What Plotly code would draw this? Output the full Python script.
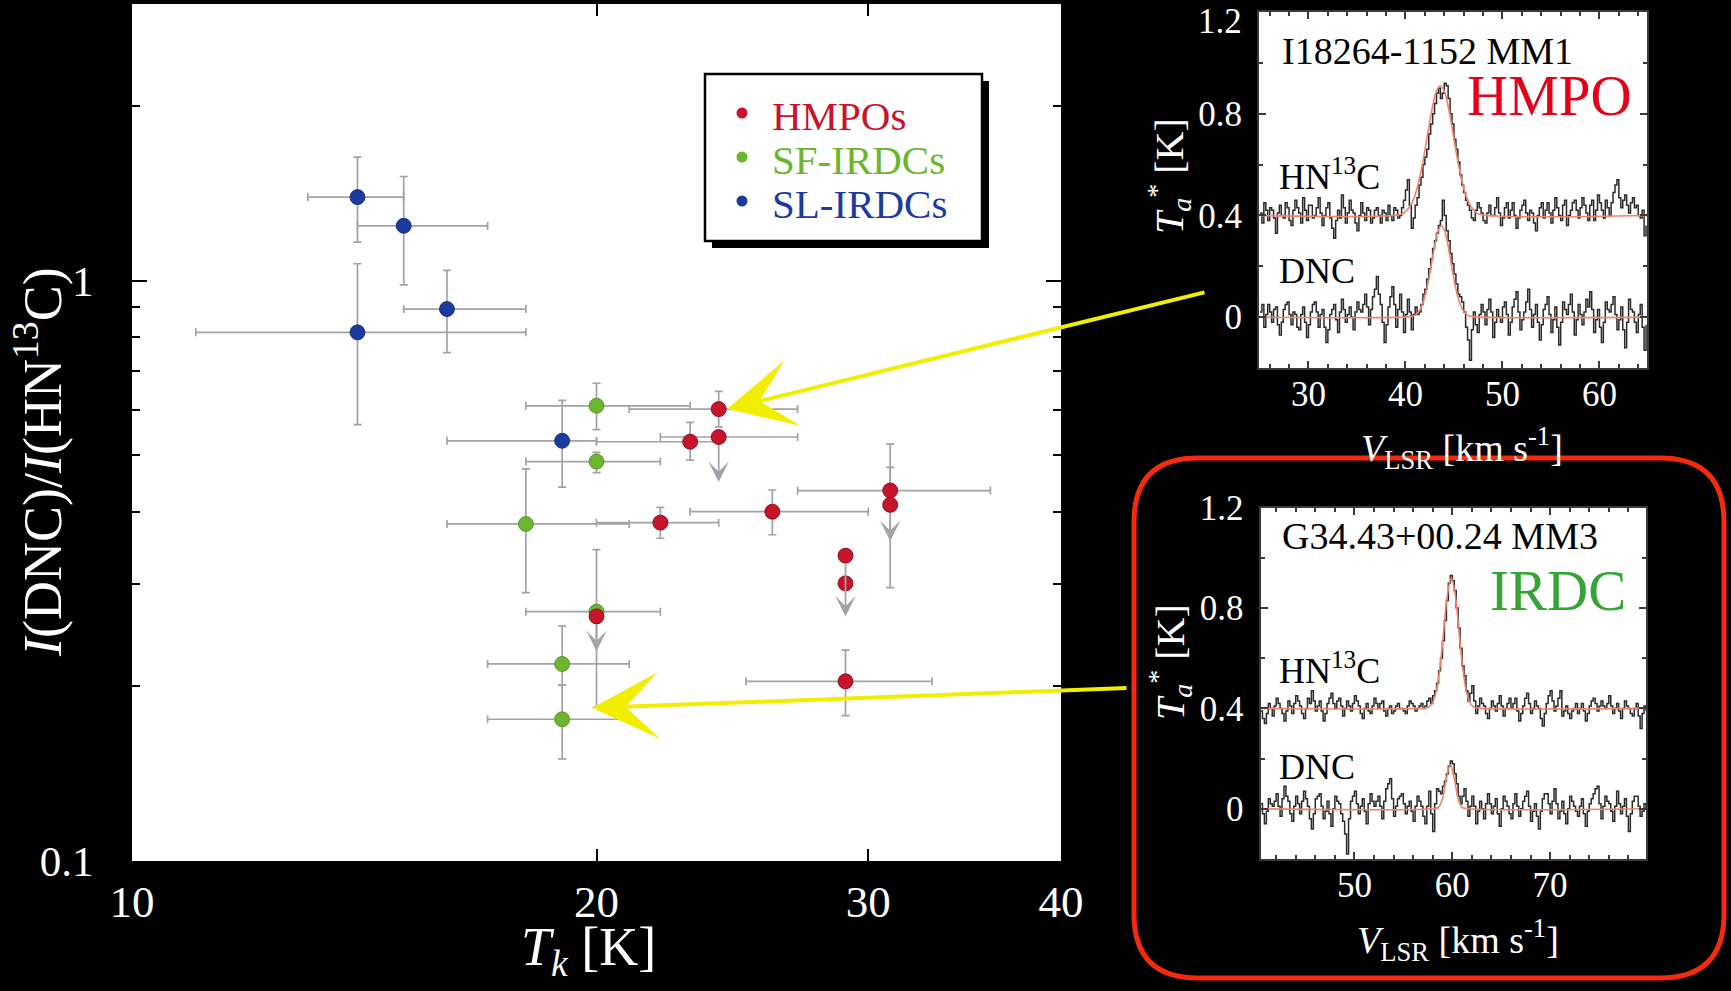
import numpy as np
import plotly.graph_objects as go

W, H = 1731, 991
SERIF = "Liberation Serif"

# ---------------- main panel: I(DNC)/I(HN13C) versus T_k ----------------
# HMPOs
hmpo_tk = [24, 24, 23, 22, 26, 31, 31, 29, 29, 29, 20]
hmpo_ratio = [0.601, 0.538, 0.528, 0.383, 0.400, 0.435, 0.411, 0.336, 0.301, 0.204, 0.264]
hmpo_tk_lo = [21, 22, 20, 20, 23, 27, 31, 29, 29, 25, 20]
hmpo_tk_hi = [27, 27, 24, 24, 30, 36, 31, 29, 29, 33, 20]
hmpo_ratio_lo = [0.560, 0.538, 0.491, 0.360, 0.365, 0.296, 0.411, 0.336, 0.301, 0.178, 0.264]
hmpo_ratio_hi = [0.645, 0.538, 0.570, 0.407, 0.436, 0.523, 0.477, 0.336, 0.301, 0.231, 0.264]
hmpo_limit_to = [None, 0.450, None, None, None, None, 0.356, 0.264, None, None, 0.230]

# star-forming IRDCs
sf_tk = [20, 20, 18, 20, 19, 19]
sf_ratio = [0.609, 0.488, 0.381, 0.269, 0.2186, 0.1755]
sf_tk_lo = [18, 18, 16, 18, 17, 17]
sf_tk_hi = [23, 22, 21, 22, 21, 21]
sf_ratio_lo = [0.554, 0.467, 0.290, 0.184, 0.201, 0.150]
sf_ratio_hi = [0.666, 0.506, 0.474, 0.344, 0.254, 0.201]

# starless IRDCs
sl_tk = [14, 15, 16, 14, 19]
sl_ratio = [1.394, 1.244, 0.894, 0.815, 0.530]
sl_tk_lo = [13, 14, 15, 11, 16]
sl_tk_hi = [15, 17, 18, 18, 20]
sl_ratio_lo = [1.166, 0.984, 0.752, 0.565, 0.441]
sl_ratio_hi = [1.634, 1.513, 1.042, 1.070, 0.622]

x_ticks = [10, 20, 30, 40]
y_ticks = [0.1, 1]
y_minor = [0.2, 0.3, 0.4, 0.5, 0.6, 0.7, 0.8, 0.9, 2]

# ---------------- spectra (channel width 0.2 km/s) ----------------
top_v0, top_dv = 25.0, 0.2
top_hn13c = [
    0.41, 0.37, 0.45, 0.42, 0.38, 0.43, 0.42, 0.39, 0.33, 0.41,
    0.44, 0.40, 0.39, 0.45, 0.43, 0.38, 0.36, 0.42, 0.46, 0.43,
    0.41, 0.37, 0.47, 0.42, 0.38, 0.44, 0.44, 0.39, 0.40, 0.43,
    0.47, 0.41, 0.36, 0.40, 0.43, 0.45, 0.39, 0.35, 0.31, 0.38,
    0.42, 0.39, 0.48, 0.43, 0.37, 0.41, 0.46, 0.42, 0.41, 0.37,
    0.34, 0.40, 0.45, 0.41, 0.38, 0.43, 0.42, 0.37, 0.39, 0.42,
    0.43, 0.40, 0.37, 0.42, 0.41, 0.38, 0.44, 0.40, 0.38, 0.43,
    0.42, 0.39, 0.40, 0.43, 0.46, 0.50, 0.54, 0.44, 0.35, 0.39,
    0.44, 0.47, 0.52, 0.55, 0.60, 0.63, 0.66, 0.72, 0.76, 0.80,
    0.84, 0.88, 0.90, 0.86, 0.88, 0.92, 0.91, 0.86, 0.80, 0.76,
    0.70, 0.66, 0.61, 0.56, 0.52, 0.49, 0.46, 0.44, 0.42, 0.39,
    0.38, 0.42, 0.45, 0.43, 0.41, 0.38, 0.37, 0.41, 0.44, 0.40,
    0.40, 0.43, 0.47, 0.41, 0.36, 0.39, 0.43, 0.45, 0.39, 0.42,
    0.45, 0.40, 0.35, 0.39, 0.42, 0.44, 0.46, 0.41, 0.38, 0.42,
    0.41, 0.37, 0.34, 0.40, 0.43, 0.45, 0.39, 0.42, 0.45, 0.41,
    0.37, 0.42, 0.47, 0.43, 0.40, 0.38, 0.44, 0.46, 0.36, 0.40,
    0.42, 0.45, 0.46, 0.42, 0.39, 0.43, 0.47, 0.44, 0.41, 0.38,
    0.44, 0.46, 0.38, 0.42, 0.48, 0.45, 0.42, 0.39, 0.46, 0.43,
    0.40, 0.45, 0.49, 0.52, 0.54, 0.47, 0.43, 0.46, 0.48, 0.44,
    0.41, 0.45, 0.47, 0.43, 0.44, 0.40, 0.39, 0.42, 0.32, 0.36]
top_dnc = [
    0.02, 0.05, -0.04, 0.01, 0.05, 0.02, -0.02, 0.03, 0.04, -0.03,
    -0.07, -0.02, 0.03, 0.05, 0.06, 0.01, -0.03, 0.02, 0.01, -0.04,
    -0.05, 0.01, 0.04, -0.02, -0.08, -0.03, 0.02, 0.05, 0.06, 0.02,
    -0.04, 0.01, 0.03, -0.04, -0.10, -0.05, 0.01, 0.03, 0.05, -0.01,
    -0.06, 0.02, 0.07, 0.03, -0.02, 0.01, 0.04, 0.00, -0.05, 0.02,
    0.06, 0.03, 0.02, 0.05, 0.09, 0.04, -0.03, 0.03, 0.08, 0.11,
    0.16, 0.09, 0.05, -0.02, -0.10, -0.03, 0.04, 0.08, 0.12, 0.05,
    -0.04, 0.03, 0.09, 0.02, -0.06, 0.01, 0.07, 0.02, -0.05, 0.01,
    0.04, 0.01, 0.02, 0.05, 0.09, 0.11, 0.15, 0.19, 0.23, 0.27,
    0.30, 0.33, 0.36, 0.38, 0.46, 0.40, 0.34, 0.30, 0.25, 0.21,
    0.17, 0.13, 0.09, 0.08, 0.06, 0.02, -0.04, -0.09, -0.17, -0.05,
    0.02, -0.03, -0.06, 0.01, 0.05, 0.02, -0.03, 0.03, 0.07, 0.02,
    -0.08, -0.02, 0.03, 0.00, -0.02, 0.04, 0.06, 0.01, -0.07, -0.02,
    0.04, 0.07, 0.10, 0.02, -0.05, -0.01, 0.02, 0.06, 0.11, 0.03,
    -0.04, 0.01, 0.05, -0.02, -0.09, -0.03, 0.03, 0.05, 0.08, 0.01,
    -0.06, -0.01, 0.04, -0.04, -0.11, -0.02, 0.06, 0.03, 0.01, 0.05,
    0.09, 0.02, -0.07, -0.01, 0.05, 0.01, -0.03, 0.02, 0.07, 0.04,
    0.10, 0.03, -0.06, -0.01, 0.03, -0.04, -0.10, -0.02, 0.06, 0.03,
    0.02, 0.05, 0.08, 0.01, -0.05, -0.01, 0.04, -0.05, -0.12, -0.02,
    0.07, 0.03, 0.02, -0.02, -0.06, 0.01, 0.05, -0.04, -0.13, -0.03]
top_hn13c_fit_v = [24.9, 39.6, 40.0, 40.4, 40.8, 41.2, 41.6, 42.0, 42.4, 42.8, 43.2, 43.6,
                   44.0, 44.4, 44.8, 45.2, 45.6, 46.0, 46.4, 46.8, 47.2, 47.6, 64.9]
top_hn13c_fit_t = [0.40, 0.405, 0.415, 0.432, 0.461, 0.507, 0.573, 0.655, 0.746, 0.829, 0.889, 0.91,
                   0.889, 0.829, 0.746, 0.655, 0.573, 0.507, 0.461, 0.432, 0.415, 0.405, 0.40]
top_dnc_fit_v = [24.9, 40.5, 40.9, 41.3, 41.7, 42.1, 42.5, 42.9, 43.3, 43.7,
                 44.1, 44.5, 44.9, 45.3, 45.7, 46.1, 46.5, 46.9, 64.9]
top_dnc_fit_t = [0.0, 0.002, 0.006, 0.018, 0.045, 0.095, 0.170, 0.258, 0.331, 0.36,
                 0.331, 0.258, 0.170, 0.095, 0.045, 0.018, 0.006, 0.002, 0.0]

bot_v0, bot_dv = 40.4, 0.2
bot_hn13c = [
    0.39, 0.36, 0.34, 0.38, 0.42, 0.40, 0.37, 0.41, 0.44, 0.42,
    0.40, 0.38, 0.35, 0.39, 0.43, 0.41, 0.38, 0.42, 0.45, 0.43,
    0.41, 0.38, 0.36, 0.40, 0.44, 0.42, 0.47, 0.43, 0.39, 0.41,
    0.43, 0.39, 0.35, 0.38, 0.42, 0.44, 0.46, 0.42, 0.40, 0.43,
    0.44, 0.41, 0.37, 0.40, 0.43, 0.41, 0.39, 0.42, 0.45, 0.43,
    0.41, 0.38, 0.36, 0.40, 0.42, 0.39, 0.38, 0.41, 0.44, 0.42,
    0.40, 0.42, 0.43, 0.39, 0.37, 0.40, 0.41, 0.38, 0.39, 0.41,
    0.42, 0.40, 0.40, 0.39, 0.38, 0.41, 0.43, 0.42, 0.41, 0.39,
    0.40, 0.41, 0.42, 0.40, 0.41, 0.43, 0.44, 0.42, 0.45, 0.47,
    0.50, 0.55, 0.60, 0.67, 0.75, 0.83, 0.90, 0.93, 0.91, 0.87,
    0.80, 0.72, 0.64, 0.57, 0.53, 0.47, 0.43, 0.46, 0.49, 0.43,
    0.38, 0.41, 0.44, 0.42, 0.41, 0.38, 0.36, 0.40, 0.43, 0.41,
    0.39, 0.42, 0.45, 0.41, 0.37, 0.40, 0.42, 0.44, 0.40, 0.42,
    0.44, 0.39, 0.35, 0.38, 0.41, 0.44, 0.46, 0.42, 0.38, 0.40,
    0.43, 0.41, 0.40, 0.36, 0.33, 0.38, 0.42, 0.45, 0.47, 0.43,
    0.39, 0.41, 0.44, 0.47, 0.37, 0.39, 0.41, 0.38, 0.36, 0.39,
    0.40, 0.42, 0.38, 0.40, 0.42, 0.39, 0.35, 0.38, 0.41, 0.43,
    0.44, 0.42, 0.39, 0.41, 0.43, 0.41, 0.40, 0.42, 0.45, 0.41,
    0.38, 0.40, 0.42, 0.39, 0.36, 0.40, 0.43, 0.41, 0.40, 0.38,
    0.37, 0.40, 0.42, 0.37, 0.32, 0.38, 0.41, 0.39]
bot_dnc = [
    0.02, -0.02, -0.06, -0.01, 0.04, 0.02, 0.01, 0.03, 0.06, 0.01,
    -0.03, 0.04, 0.09, 0.05, 0.03, -0.02, -0.05, 0.01, 0.05, 0.02,
    -0.02, 0.03, 0.07, 0.04, 0.01, -0.04, -0.08, -0.02, 0.04, 0.05,
    0.06, 0.01, -0.04, -0.01, 0.03, -0.02, -0.07, 0.00, 0.05, 0.03,
    0.02, -0.02, -0.05, -0.10, -0.18, -0.04, 0.03, 0.05, 0.07, 0.02,
    -0.02, 0.01, 0.04, -0.01, -0.06, 0.02, 0.06, 0.03, 0.01, 0.03,
    0.05, 0.01, -0.04, 0.03, 0.08, 0.10, 0.12, 0.04, -0.03, 0.01,
    0.04, 0.05, 0.06, 0.02, -0.02, 0.01, 0.03, -0.01, -0.05, 0.01,
    0.05, 0.03, 0.01, -0.03, -0.06, 0.01, 0.07, -0.02, -0.09, 0.02,
    0.08, 0.07, 0.06, 0.09, 0.11, 0.14, 0.17, 0.19, 0.18, 0.14,
    0.10, 0.05, 0.02, 0.05, 0.08, 0.03, -0.03, 0.01, 0.05, 0.01,
    -0.06, -0.01, 0.03, 0.00, -0.04, 0.02, 0.06, 0.02, -0.02, 0.01,
    0.04, -0.02, -0.07, 0.00, 0.05, 0.03, 0.01, -0.02, -0.04, 0.02,
    0.06, 0.01, -0.03, 0.00, 0.03, 0.05, 0.07, 0.01, -0.05, -0.01,
    0.02, -0.03, -0.08, -0.01, 0.04, 0.06, 0.06, 0.02, -0.02, 0.03,
    0.08, 0.02, -0.04, -0.01, 0.03, -0.02, -0.06, 0.00, 0.05, 0.03,
    0.01, -0.01, -0.03, 0.01, 0.04, -0.02, -0.07, -0.01, 0.02, 0.04,
    0.06, 0.08, 0.09, 0.02, -0.04, 0.01, 0.05, 0.03, 0.02, -0.01,
    -0.05, 0.01, 0.07, 0.02, -0.02, 0.01, 0.04, -0.03, -0.09, -0.02,
    0.03, 0.05, 0.05, 0.01, -0.03, -0.01, 0.02, 0.00]
bot_hn13c_fit_v = [40.4, 57.1, 57.5, 57.9, 58.3, 58.7, 59.1, 59.5, 59.9,
                   60.3, 60.7, 61.1, 61.5, 61.9, 62.3, 62.7, 79.8]
bot_hn13c_fit_t = [0.40, 0.401, 0.404, 0.417, 0.458, 0.551, 0.70, 0.853, 0.92,
                   0.853, 0.70, 0.551, 0.458, 0.417, 0.404, 0.401, 0.40]
bot_dnc_fit_v = [40.4, 58.2, 58.6, 59.0, 59.4, 59.8, 60.2, 60.6, 61.0, 61.4, 79.8]
bot_dnc_fit_t = [0.0, 0.001, 0.006, 0.04, 0.121, 0.175, 0.121, 0.04, 0.006, 0.001, 0.0]

spec_y_ticks = [0, 0.4, 0.8, 1.2]
spec_y_text = ["0", "0.4", "0.8", "1.2"]
top_x_ticks = [30, 40, 50, 60]
bot_x_ticks = [50, 60, 70]

# colours
C_HMPO = "#c8142a"
C_SF = "#6cb52e"
C_SL = "#1b3b9e"
C_ERR = "#a2a2a8"
C_FIT = "#f08468"
C_SPEC = "#2a2a2a"
C_YEL = "#f2ee00"


def px(X, Y):
    """pixel position on the page -> paper fraction"""
    return X / W, 1 - Y / H


def err_arrays(val, lo, hi):
    val, lo, hi = map(np.asarray, (val, lo, hi))
    return (hi - val).tolist(), (val - lo).tolist()


fig = go.Figure()


def add_group(tk, ratio, tk_lo, tk_hi, r_lo, r_hi, color, edge):
    xp, xm = err_arrays(tk, tk_lo, tk_hi)
    yp, ym = err_arrays(ratio, r_lo, r_hi)
    fig.add_trace(go.Scatter(
        x=tk, y=ratio, mode="markers", xaxis="x", yaxis="y",
        marker=dict(size=15, color=color, line=dict(color=edge, width=0.8)),
        error_x=dict(type="data", symmetric=False, array=xp, arrayminus=xm,
                     color=C_ERR, thickness=1.7, width=4),
        error_y=dict(type="data", symmetric=False, array=yp, arrayminus=ym,
                     color=C_ERR, thickness=1.7, width=4),
        hoverinfo="skip", showlegend=False))


add_group(sl_tk, sl_ratio, sl_tk_lo, sl_tk_hi, sl_ratio_lo, sl_ratio_hi, C_SL, "#0e2466")
add_group(sf_tk, sf_ratio, sf_tk_lo, sf_tk_hi, sf_ratio_lo, sf_ratio_hi, C_SF, "#4a8a1c")
add_group(hmpo_tk, hmpo_ratio, hmpo_tk_lo, hmpo_tk_hi, hmpo_ratio_lo, hmpo_ratio_hi, C_HMPO, "#7a0010")


def add_spec(vel, data, fit_v, fit_t, xa, ya):
    fig.add_trace(go.Scatter(x=vel, y=data, mode="lines", xaxis=xa, yaxis=ya,
                             line=dict(color=C_SPEC, width=1.5, shape="hv"),
                             hoverinfo="skip", showlegend=False))
    fig.add_trace(go.Scatter(x=fit_v, y=fit_t, mode="lines", xaxis=xa, yaxis=ya,
                             line=dict(color=C_FIT, width=1.6, shape="spline"),
                             hoverinfo="skip", showlegend=False))


top_vel = np.round(top_v0 + top_dv * np.arange(len(top_hn13c)), 2)
bot_vel = np.round(bot_v0 + bot_dv * np.arange(len(bot_hn13c)), 2)
add_spec(top_vel, top_hn13c, top_hn13c_fit_v, top_hn13c_fit_t, "x2", "y2")
add_spec(top_vel, top_dnc, top_dnc_fit_v, top_dnc_fit_t, "x2", "y2")
add_spec(bot_vel, bot_hn13c, bot_hn13c_fit_v, bot_hn13c_fit_t, "x3", "y3")
add_spec(bot_vel, bot_dnc, bot_dnc_fit_v, bot_dnc_fit_t, "x3", "y3")

# ---------------- axes ----------------
main_frame = dict(showline=True, linecolor="black", linewidth=2, mirror="ticks",
                  ticks="inside", tickcolor="black", tickwidth=2, showgrid=False,
                  zeroline=False, automargin=False)
fig.update_layout(
    xaxis=dict(domain=[132 / W, 1061 / W], anchor="y", type="log",
               range=[1, np.log10(40)], tickvals=x_ticks,
               ticktext=[str(v) for v in x_ticks], ticklen=12,
               tickfont=dict(family=SERIF, size=45, color="white"),
               ticklabelstandoff=0, **main_frame),
    yaxis=dict(domain=[1 - 861 / H, 1 - 4 / H], anchor="x", type="log",
               range=[-1, np.log10(3)], tickvals=y_ticks,
               ticktext=["0.1", "1"], ticklen=15,
               minor=dict(tickvals=y_minor, ticks="inside", ticklen=8,
                          tickcolor="black", tickwidth=2),
               tickfont=dict(family=SERIF, size=43, color="white"),
               ticklabelstandoff=28, **main_frame),
)

spec_frame = dict(showline=True, linecolor="#3a3a3a", linewidth=2, mirror="ticks",
                  ticks="inside", tickcolor="#3a3a3a", tickwidth=1.5, ticklen=7,
                  showgrid=False, zeroline=False, automargin=False,
                  tickfont=dict(family=SERIF, size=35, color="white"))
# the top panel touches the page edge, so its uppermost label is placed separately
fig.update_layout(
    xaxis2=dict(domain=[1259 / W, 1647 / W], anchor="y2", range=[24.9, 64.9],
                tickvals=top_x_ticks, ticklabelstandoff=-6,
                minor=dict(dtick=2, ticks="inside", ticklen=4, tickcolor="#3a3a3a"),
                **spec_frame),
    yaxis2=dict(domain=[1 - 368 / H, 1 - 12 / H], anchor="x2", range=[-0.2, 1.2],
                tickvals=spec_y_ticks, ticktext=spec_y_text[:-1] + [""],
                ticklabelstandoff=8,
                minor=dict(dtick=0.2, ticks="inside", ticklen=4, tickcolor="#3a3a3a"),
                **spec_frame),
    xaxis3=dict(domain=[1260.5 / W, 1646 / W], anchor="y3", range=[40.4, 79.8],
                tickvals=bot_x_ticks, ticklabelstandoff=-6,
                minor=dict(dtick=2, ticks="inside", ticklen=4, tickcolor="#3a3a3a"),
                **spec_frame),
    yaxis3=dict(domain=[1 - 859 / H, 1 - 507.5 / H], anchor="x3", range=[-0.2, 1.2005],
                tickvals=spec_y_ticks, ticktext=spec_y_text,
                ticklabelstandoff=8,
                minor=dict(dtick=0.2, ticks="inside", ticklen=4, tickcolor="#3a3a3a"),
                **spec_frame),
)

# ---------------- text ----------------
annotations = []


def text(t, X, Y, size, color, xanchor="left", yanchor="middle", angle=0):
    x, y = px(X, Y)
    annotations.append(dict(text=t, x=x, y=y, xref="paper", yref="paper",
                            xanchor=xanchor, yanchor=yanchor, showarrow=False,
                            textangle=angle,
                            font=dict(family=SERIF, size=size, color=color)))


# top label of the upper spectrum's y axis
text(spec_y_text[-1], 1244, 0, 35, "white", xanchor="right", yanchor="top")

# main axis titles
text("<i>I</i>(DNC)/<i>I</i>(HN<sup>13</sup>C)", 38, 462, 54, "white",
     xanchor="center", angle=-90)
text("<i>T</i><sub><i>k</i></sub> [K]", 588, 950, 54, "white", xanchor="center")

# spectrum panel labels
text("I18264-1152 MM1", 1280, 51, 38, "black")
text("HMPO", 1634, 95, 57, "#e5001a", xanchor="right")
text("HN<sup>13</sup>C", 1277, 174, 36, "black")
text("DNC", 1277, 271, 36, "black")
text("<i>T</i><sub><i>a</i></sub><sup>*</sup> [K]", 1169, 176, 40, "white",
     xanchor="center", angle=-90)
text("<i>V</i><sub>LSR</sub> [km s<sup>-1</sup>]", 1462, 448, 38, "white", xanchor="center")

text("G34.43+00.24 MM3", 1280, 536, 38, "black")
text("IRDC", 1628, 590, 57, "#34a534", xanchor="right")
text("HN<sup>13</sup>C", 1277, 668, 36, "black")
text("DNC", 1277, 767, 36, "black")
text("<i>T</i><sub><i>a</i></sub><sup>*</sup> [K]", 1170, 662, 40, "white",
     xanchor="center", angle=-90)
text("<i>V</i><sub>LSR</sub> [km s<sup>-1</sup>]", 1458, 940, 38, "white", xanchor="center")

# legend entries
legend_items = [("HMPOs", C_HMPO), ("SF-IRDCs", C_SF), ("SL-IRDCs", C_SL)]
legend_rows = [113, 157, 201]
for (name, col), Y in zip(legend_items, legend_rows):
    text(name, 770, Y + 3, 41, col)

# upper-limit arrows
for tk, r, to in zip(hmpo_tk, hmpo_ratio, hmpo_limit_to):
    if to is None:
        continue
    annotations.append(dict(
        text="", x=np.log10(tk), y=np.log10(to), xref="x", yref="y",
        ax=np.log10(tk), ay=np.log10(r), axref="x", ayref="y",
        showarrow=True, arrowhead=3, arrowsize=1.9, arrowwidth=1.8,
        arrowcolor=C_ERR, startstandoff=7))

# yellow pointers from the spectra to their sources
for tip, tail in [((727, 409), (1206, 292)), ((592, 708), (1128, 688))]:
    x, y = px(*tip)
    annotations.append(dict(
        text="", x=x, y=y, xref="paper", yref="paper",
        ax=tail[0] - tip[0], ay=tail[1] - tip[1], axref="pixel", ayref="pixel",
        showarrow=True, arrowhead=3, arrowsize=2.8, arrowwidth=4,
        arrowcolor=C_YEL))

# ---------------- shapes: legend box and highlight frame ----------------
shapes = []


def rect(X0, Y0, X1, Y1, **kw):
    x0, y0 = px(X0, Y1)
    x1, y1 = px(X1, Y0)
    shapes.append(dict(type="rect", xref="paper", yref="paper",
                       x0=x0, y0=y0, x1=x1, y1=y1, layer="above", **kw))


rect(712, 81, 989, 248, fillcolor="black", line=dict(width=0))
rect(705, 74, 982, 241, fillcolor="white", line=dict(color="black", width=2.5))
for (name, col), Y in zip(legend_items, legend_rows):
    x0, y0 = px(736.5, Y + 5.5)
    x1, y1 = px(747.5, Y - 5.5)
    shapes.append(dict(type="circle", xref="paper", yref="paper", x0=x0, y0=y0,
                       x1=x1, y1=y1, fillcolor=col, line=dict(width=0), layer="above"))

# rounded frame around the IRDC spectrum
X0, Y0, X1, Y1, R = 1134, 458, 1724, 978, 64
rx, ry = R / W, R / H
a0, b1 = px(X0, Y0)
a1, b0 = px(X1, Y1)
path = (f"M {a0 + rx},{b1} L {a1 - rx},{b1} Q {a1},{b1} {a1},{b1 - ry} "
        f"L {a1},{b0 + ry} Q {a1},{b0} {a1 - rx},{b0} "
        f"L {a0 + rx},{b0} Q {a0},{b0} {a0},{b0 + ry} "
        f"L {a0},{b1 - ry} Q {a0},{b1} {a0 + rx},{b1} Z")
shapes.append(dict(type="path", path=path, xref="paper", yref="paper",
                   line=dict(color="#f42a0c", width=5), layer="above"))

fig.update_layout(
    width=W, height=H, margin=dict(l=0, r=0, t=0, b=0, autoexpand=False),
    paper_bgcolor="black", plot_bgcolor="white", showlegend=False,
    annotations=annotations, shapes=shapes,
)

fig.write_html("out.html")
